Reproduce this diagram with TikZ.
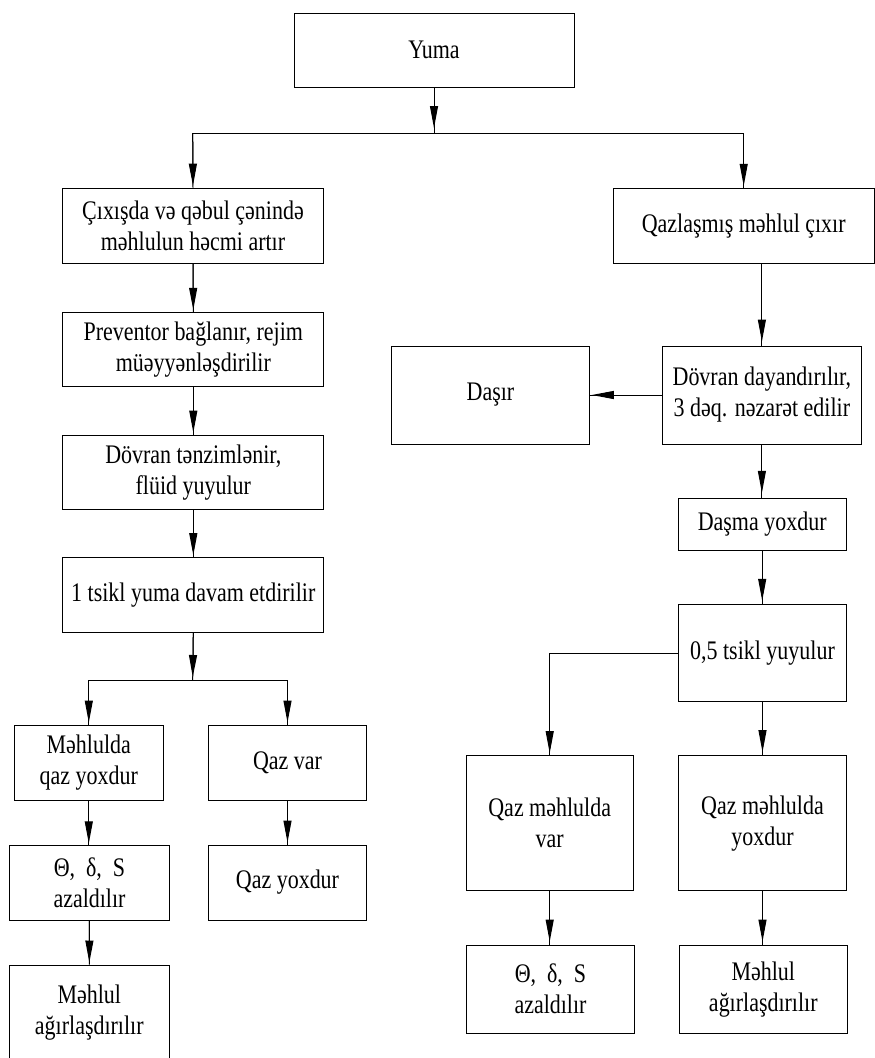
\documentclass[tikz,border=0pt]{standalone}
\usepackage{fontspec}
\setmainfont{Liberation Serif}[FakeStretch=0.82]
\usetikzlibrary{arrows.meta}
\newcommand\flowarrow[3][2pt]{%
  \draw[conn] #2 -- #3;
  \draw[arr, shorten >=#1] #2 -- #3;}
\begin{document}
\begin{tikzpicture}[x=1pt,y=-1pt,
  box/.style={draw, line width=1pt, rectangle, align=center, inner sep=0pt,
    font=\fontsize{26.8}{31}\selectfont},
  conn/.style={line width=1pt},
  arr/.style={line width=1pt, -{Triangle[length=22pt,width=8pt]}}
]
\useasboundingbox (0,0) rectangle (875,1058);

% left column
\node[box, minimum width=280pt, minimum height=74pt] (yuma) at (434,50) {Yuma};
\node[box, minimum width=261pt, minimum height=75pt] (l1) at (193,225.7) {Çıxışda və qəbul çənində\\məhlulun həcmi artır};
\node[box, minimum width=261pt, minimum height=74.4pt] (l2) at (193.3,349.5) {Preventor bağlanır, rejim\\müəyyənləşdirilir};
\node[box, minimum width=261pt, minimum height=74.3pt] (l3) at (193.3,472.2) {Dövran tənzimlənir,\\flüid yuyulur};
\node[box, minimum width=261pt, minimum height=75pt] (l4) at (193.3,595.2) {1 tsikl yuma davam etdirilir};
\node[box, minimum width=149pt, minimum height=75pt] (l5a) at (88.8,762.5) {Məhlulda\\qaz yoxdur};
\node[box, minimum width=158.4pt, minimum height=75pt] (l5b) at (287.5,762.5) {Qaz var};
\node[box, minimum width=159.6pt, minimum height=74.3pt] (l6a) at (89.5,883) {Θ,~ δ,~ S\\azaldılır};
\node[box, minimum width=158.4pt, minimum height=75pt] (l6b) at (287.5,882.5) {Qaz yoxdur};
\node[box, minimum width=160pt, minimum height=95pt] (l7a) at (89.3,1012.5) {Məhlul\\ağırlaşdırılır};

% right column
\node[box, minimum width=260.7pt, minimum height=75pt] (r1) at (743.7,225.8) {Qazlaşmış məhlul çıxır};
\node[box, minimum width=198.3pt, minimum height=98pt] (r2) at (761.9,395) {Dövran dayandırılır,\\3 dəq. nəzarət edilir};
\node[box, minimum width=197.6pt, minimum height=98pt] (dasir) at (490.5,395) {Daşır};
\node[box, minimum width=167.7pt, minimum height=52.4pt] (r3) at (762.2,524.5) {Daşma yoxdur};
\node[box, minimum width=168.4pt, minimum height=97.4pt] (r4) at (762.5,653) {0,5 tsikl yuyulur};
\node[box, minimum width=167.3pt, minimum height=135.3pt] (r5a) at (549.7,823.3) {Qaz məhlulda\\var};
\node[box, minimum width=168.4pt, minimum height=135.3pt] (r5b) at (762.5,823.3) {Qaz məhlulda\\yoxdur};
\node[box, minimum width=167.6pt, minimum height=88.3pt] (r6a) at (550.5,989.2) {Θ,~ δ,~ S\\azaldılır};
\node[box, minimum width=168pt, minimum height=88.3pt] (r6b) at (763.3,989.2) {Məhlul\\ağırlaşdırılır};

% junctions
\coordinate (jtop) at (434,133);
\coordinate (jl) at (192.7,133);
\coordinate (jr) at (743.7,133);
\coordinate (jbr) at (192.7,680);
\coordinate (jbl) at (88.8,680);
\coordinate (jbrr) at (287.5,680);

% connectors
\flowarrow[5pt]{(yuma.south)}{(jtop)}
\draw[conn] (jl) -- (jr);
\flowarrow{(jl)}{(l1.north)}
\flowarrow{(jr)}{(r1.north)}
\flowarrow{(l1.south)}{(l2.north)}
\flowarrow{(l2.south)}{(l3.north)}
\flowarrow{(l3.south)}{(l4.north)}
\flowarrow[3pt]{(l4.south)}{(jbr)}
\draw[conn] (jbl) -- (jbrr);
\flowarrow{(jbl)}{(l5a.north)}
\flowarrow{(jbrr)}{(l5b.north)}
\flowarrow{(l5a.south)}{(l5a.south |- l6a.north)}
\flowarrow{(l5b.south)}{(l6b.north)}
\flowarrow{(l6a.south)}{(l7a.north)}

\flowarrow[4pt]{(r1.south -| r2.north)}{(r2.north)}
\flowarrow[2pt]{(r2.west)}{(dasir.east)}
\flowarrow[5pt]{(r2.south)}{(r2.south |- r3.north)}
\flowarrow[3pt]{(r3.south)}{(r3.south |- r4.north)}
\draw[conn] (r4.west) -| (r5a.north);
\draw[arr, shorten >=2pt] (r5a.north |- r4.west) -- (r5a.north);
\flowarrow[3pt]{(r4.south)}{(r4.south |- r5b.north)}
\flowarrow[3pt]{(r5a.south)}{(r5a.south |- r6a.north)}
\flowarrow[3pt]{(r5b.south)}{(r5b.south |- r6b.north)}
\end{tikzpicture}
\end{document}
